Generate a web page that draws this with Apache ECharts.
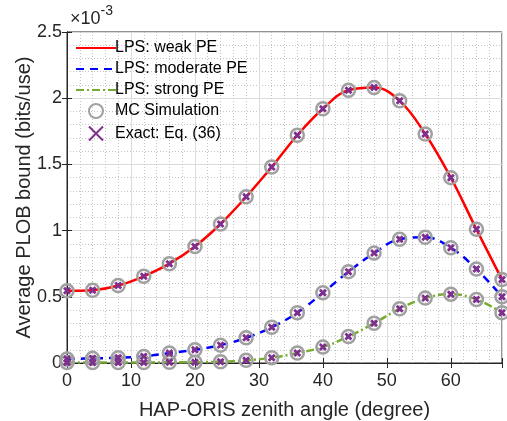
<!DOCTYPE html>
<html>
<head>
<meta charset="utf-8">
<script src="https://cdn.jsdelivr.net/npm/echarts@6/dist/echarts.min.js"></script>
<style>html,body{margin:0;padding:0;background:#fff}#c{width:507px;height:421px}</style>
</head>
<body>
<div id="c"></div>
<script>
// zenith angle (degree)
const angles = [0, 4, 8, 12, 16, 20, 24, 28, 32, 36, 40, 44, 48, 52, 56, 60, 64, 68];
// Average PLOB bound, x10^-3 bits/use
const weakPE     = [0.545, 0.55, 0.585, 0.655, 0.75, 0.88, 1.05, 1.255, 1.48, 1.72, 1.92, 2.06, 2.08, 1.98, 1.73, 1.40, 1.01, 0.63];
const moderatePE = [0.03, 0.035, 0.04, 0.05, 0.075, 0.10, 0.135, 0.19, 0.27, 0.38, 0.53, 0.69, 0.83, 0.935, 0.95, 0.87, 0.71, 0.50];
const strongPE   = [0.003, 0.003, 0.003, 0.004, 0.005, 0.006, 0.009, 0.02, 0.04, 0.075, 0.12, 0.20, 0.30, 0.41, 0.49, 0.52, 0.48, 0.38];
const yTicks = [0, 0.5, 1, 1.5, 2, 2.5];
const xTicks = [0, 10, 20, 30, 40, 50, 60];

const pairs = arr => angles.map((a, i) => [a, arr[i]]);
const allPts = [].concat(pairs(weakPE), pairs(moderatePE), pairs(strongPE));

const FONT = 'Liberation Sans';
const TXT = '#262626';
const chart = echarts.init(document.getElementById('c'), null, {renderer: 'canvas'});
const xMark = 'path://M0,0L10,10M10,0L0,10';
const hideSym = {color: 'rgba(0,0,0,0)', borderWidth: 0, opacity: 0};

chart.setOption({
  animation: false,
  backgroundColor: '#fff',
  textStyle: {fontFamily: FONT, color: TXT},
  grid: {left: 67, right: 5, top: 32, bottom: 58, show: true, borderColor: TXT, borderWidth: 1,
    backgroundColor: '#fff', containLabel: false, outerBoundsMode: 'none'},
  legend: {
    orient: 'vertical', left: 70, top: 35, itemWidth: 40, itemHeight: 14, itemGap: 5,
    textStyle: {fontFamily: FONT, fontSize: 16, color: '#000', lineHeight: 14, padding: [0, 0, 0, -6]},
    data: [
      {name: 'LPS: weak PE', itemStyle: hideSym},
      {name: 'LPS: moderate PE', itemStyle: hideSym},
      {name: 'LPS: strong PE', itemStyle: hideSym},
      'MC Simulation', 'Exact: Eq. (36)'
    ]
  },
  xAxis: [{
    type: 'value', min: 0, max: 68, interval: 10,
    axisLine: {show: true, onZero: false, lineStyle: {color: TXT, width: 1}},
    axisTick: {show: true, inside: true, length: 5, lineStyle: {color: TXT}},
    axisLabel: {fontFamily: FONT, fontSize: 18, color: TXT, margin: 9, showMaxLabel: false,
      formatter: v => xTicks.includes(v) ? String(v) : ''},
    splitLine: {show: true, lineStyle: {color: '#dcdcdc', width: 1}},
    minorTick: {show: true, splitNumber: 5, length: 0},
    minorSplitLine: {show: true, lineStyle: {color: '#c4c4c4', type: [1, 2], width: 1}},
    name: 'HAP-ORIS zenith angle (degree)', nameLocation: 'middle', nameGap: 37, nameMoveOverlap: false,
    nameTextStyle: {fontFamily: FONT, fontSize: 20, color: TXT}
  }, {
    type: 'value', min: 0, max: 68, interval: 10, position: 'top',
    axisLine: {show: true, lineStyle: {color: TXT}},
    axisTick: {show: true, inside: true, length: 5, lineStyle: {color: TXT}},
    axisLabel: {show: false}, splitLine: {show: false}
  }],
  yAxis: [{
    type: 'value', min: 0, max: 2.5, interval: 0.5,
    axisLine: {show: true, onZero: false, lineStyle: {color: TXT, width: 1}},
    axisTick: {show: true, inside: true, length: 5, lineStyle: {color: TXT}},
    axisLabel: {fontFamily: FONT, fontSize: 18, color: TXT, margin: 5,
      formatter: v => yTicks.includes(v) ? String(v) : ''},
    splitLine: {show: true, lineStyle: {color: '#dcdcdc', width: 1}},
    minorTick: {show: true, splitNumber: 5, length: 0},
    minorSplitLine: {show: true, lineStyle: {color: '#c4c4c4', type: [1, 2], width: 1}},
    name: 'Average PLOB bound (bits/use)', nameLocation: 'middle', nameGap: 33, nameMoveOverlap: false,
    nameTextStyle: {fontFamily: FONT, fontSize: 20, color: TXT}
  }, {
    type: 'value', min: 0, max: 2.5, interval: 0.5, position: 'right',
    axisLine: {show: true, lineStyle: {color: TXT}},
    axisTick: {show: true, inside: true, length: 5, lineStyle: {color: TXT}},
    axisLabel: {show: false}, splitLine: {show: false}
  }],
  graphic: [{
    type: 'text', left: 70, top: 4,
    style: {
      text: '{a|×10}{b|-3}',
      rich: {
        a: {fontFamily: FONT, fontSize: 18, fill: TXT, verticalAlign: 'bottom', lineHeight: 24},
        b: {fontFamily: FONT, fontSize: 14, fill: TXT, verticalAlign: 'top', lineHeight: 24, padding: [0, 0, 10, 0]}
      }
    }
  }],
  series: [
    {name: 'LPS: weak PE', type: 'line', data: pairs(weakPE), smooth: 0.4, showSymbol: false, symbol: 'none',
      lineStyle: {color: '#ff0000', width: 2.5}, itemStyle: {color: '#ff0000'}, z: 2},
    {name: 'LPS: moderate PE', type: 'line', data: pairs(moderatePE), smooth: 0.4, showSymbol: false, symbol: 'none',
      lineStyle: {color: '#0000ff', width: 2.5, type: [8, 6]}, itemStyle: {color: '#0000ff'}, z: 2},
    {name: 'LPS: strong PE', type: 'line', data: pairs(strongPE), smooth: 0.4, showSymbol: false, symbol: 'none',
      lineStyle: {color: '#77ac30', width: 2.5, type: [8, 3, 2, 3]}, itemStyle: {color: '#77ac30'}, z: 2},
    {name: 'MC Simulation', type: 'scatter', data: allPts, symbol: 'circle', symbolSize: 13,
      itemStyle: {color: 'rgba(255,255,255,0)', borderColor: '#a0a0a0', borderWidth: 2.5, opacity: 1}, z: 3},
    {name: 'Exact: Eq. (36)', type: 'scatter', data: allPts, symbol: xMark, symbolSize: 6,
      itemStyle: {color: 'none', borderColor: '#7e2f8e', borderWidth: 2.8, opacity: 1}, z: 4}
  ]
});
</script>
</body>
</html>
